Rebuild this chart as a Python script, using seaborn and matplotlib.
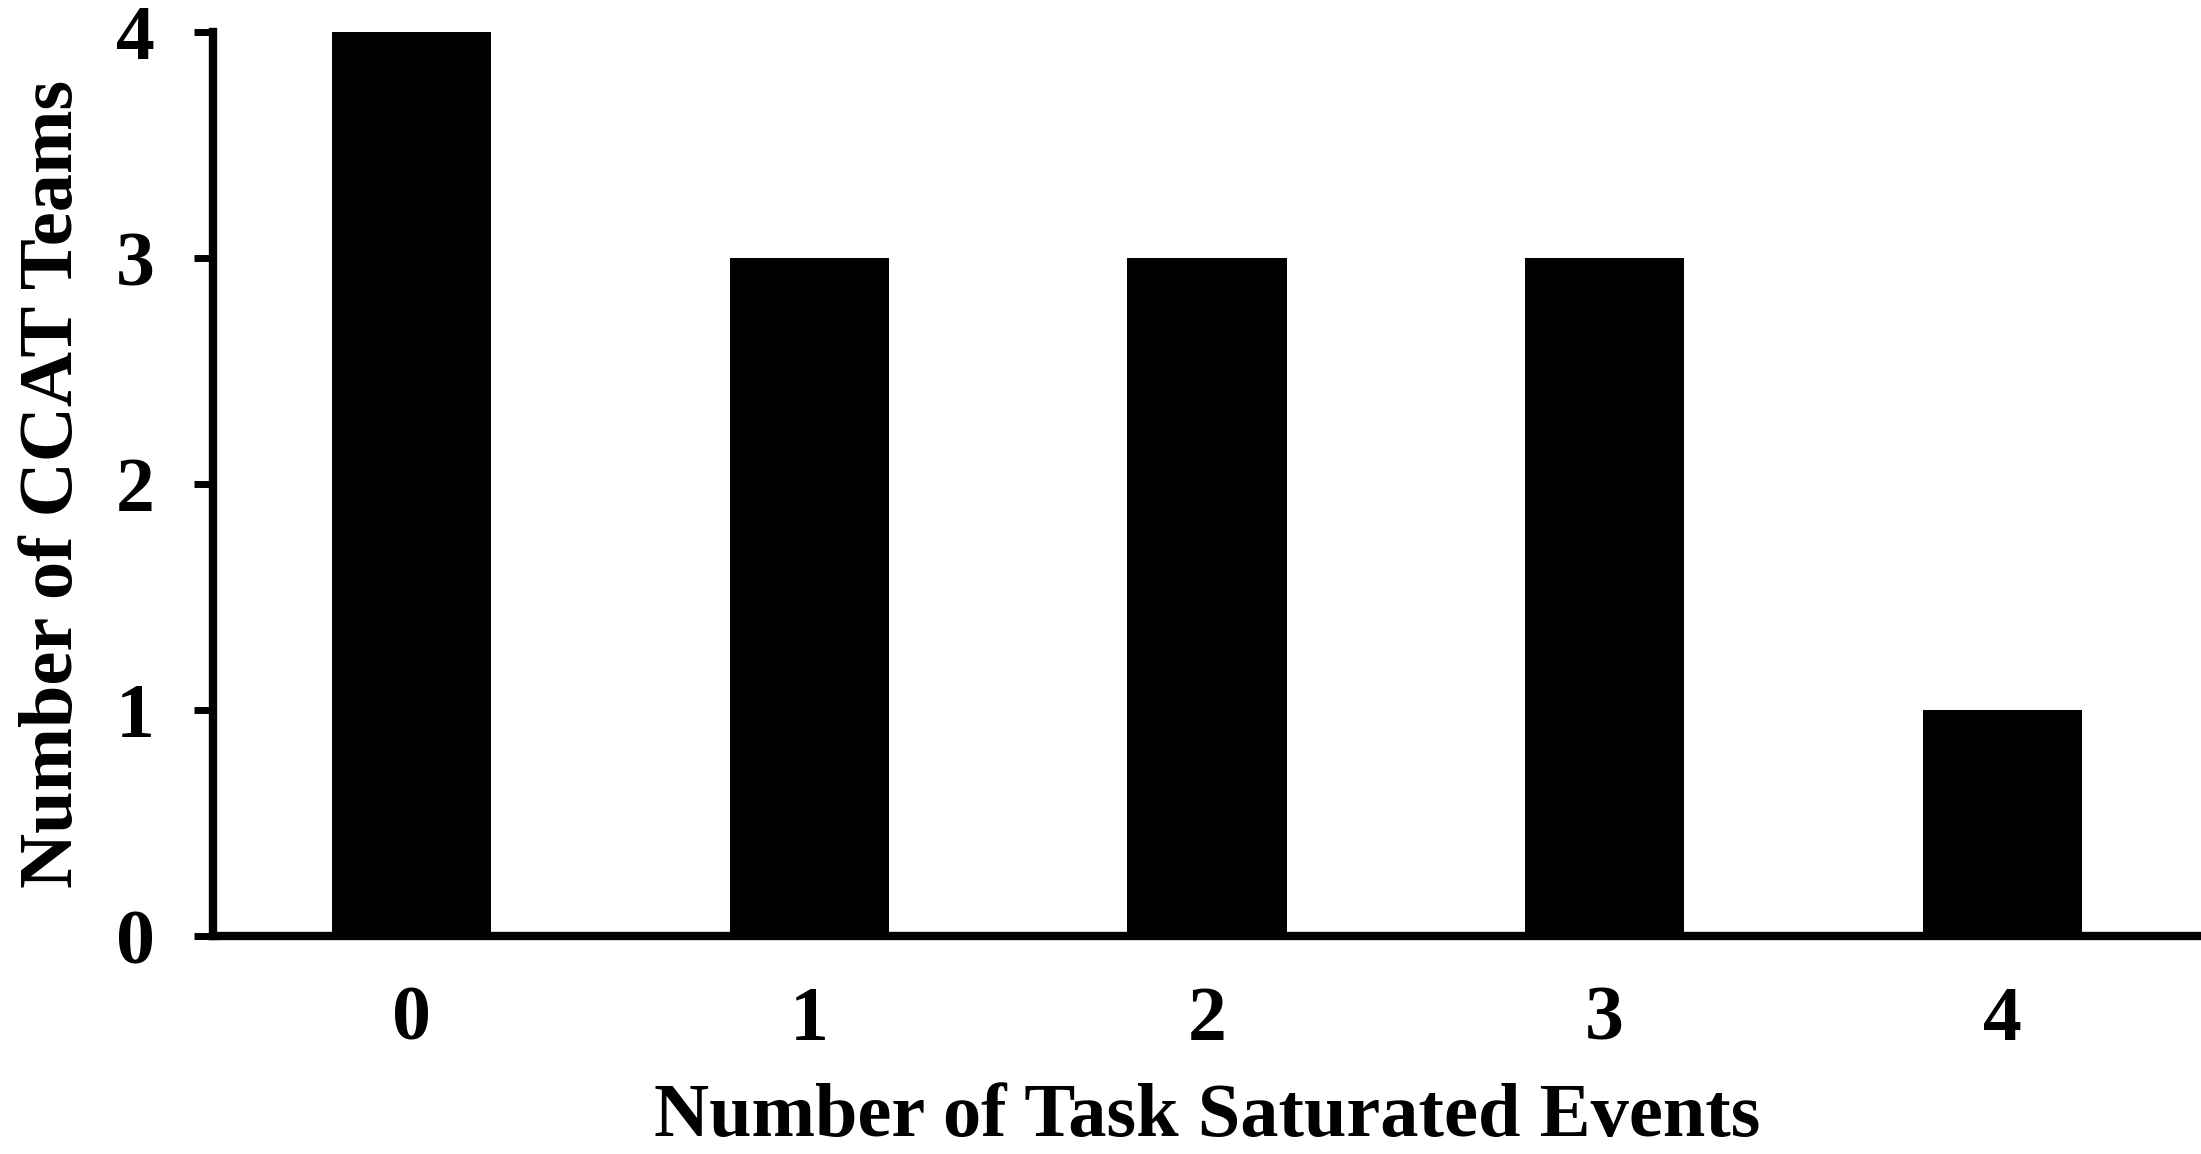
import matplotlib
matplotlib.use("Agg")
import matplotlib.pyplot as plt
import seaborn as sns
import pandas as pd

categories = ["0", "1", "2", "3", "4"]
teams = [4, 3, 3, 3, 1]
y_ticks = [0, 1, 2, 3, 4]

sns.set_style("ticks")
plt.rcParams['font.family'] = ['Liberation Serif', 'DejaVu Serif']
plt.rcParams['font.weight'] = 'bold'
plt.rcParams['text.color'] = 'black'
plt.rcParams['axes.labelcolor'] = 'black'

df = pd.DataFrame({"events": categories, "teams": teams})

fig = plt.figure(figsize=(22.01, 11.54), dpi=100)
ax = fig.add_axes([213/2201, 1-936/1154, 1-213/2201, (936-32)/1154])
sns.barplot(data=df, x="events", y="teams", color="black", width=0.4,
            saturation=1, ax=ax, edgecolor="black", linewidth=0)

ax.set_xlim(-0.5, 4.5)
ax.set_ylim(0, 4)
ax.set_yticks(y_ticks)
ax.set_yticklabels([str(v) for v in y_ticks])
sns.despine(ax=ax, top=True, right=True)
for s in ["left", "bottom"]:
    ax.spines[s].set_linewidth(6)
    ax.spines[s].set_color("black")
    ax.spines[s].set_capstyle("projecting")
    ax.spines[s].set_zorder(5)
ax.tick_params(axis="y", length=14, width=5, pad=28, labelsize=56, colors="black")
ax.tick_params(axis="x", length=0, pad=36, labelsize=56, colors="black")
for lab in ax.get_xticklabels() + ax.get_yticklabels():
    lab.set_fontweight("bold")

ax.set_xlabel("Number of Task Saturated Events", fontsize=55, fontweight="bold",
              labelpad=19, color="black")
ax.set_ylabel("Number of CCAT Teams", fontsize=55, fontweight="bold",
              labelpad=20, color="black")

fig.savefig("out.png", dpi=100)
